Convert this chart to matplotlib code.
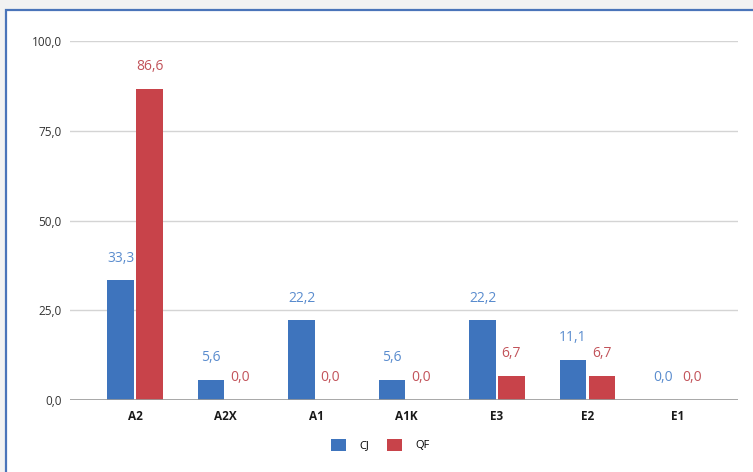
import matplotlib
matplotlib.use("Agg")
import matplotlib.pyplot as plt
from matplotlib.patches import Rectangle
import numpy as np

plt.rcParams['font.family'] = ['Open Sans', 'DejaVu Sans']

categories = ["A2", "A2X", "A1", "A1K", "E3", "E2", "E1"]
cj_values = [33.3, 5.6, 22.2, 5.6, 22.2, 11.1, 0.0]
qf_values = [86.6, 0.0, 0.0, 0.0, 6.7, 6.7, 0.0]
series_names = ["CJ", "QF"]
y_ticks = [0, 25, 50, 75, 100]

blue = "#3e74bd"
red = "#c8434a"
blue_txt = "#5a8cce"
red_txt = "#c2535a"

W, H = 753, 472
fig = plt.figure(figsize=(W / 100, H / 100), dpi=100, facecolor="#f2f2f2")

# white card with a blue frame
card = Rectangle((6 / W, -0.02), 1.02, 1 - 10 / H + 0.02, transform=fig.transFigure,
                 facecolor="white", edgecolor="#4a74b9", linewidth=1.6, zorder=-10)
fig.patches.append(card)

left, right = 70 / W, 738 / W
bottom, top = 1 - 400 / H, 1 - 41 / H
ax = fig.add_axes([left, bottom, right - left, top - bottom])
ax.set_zorder(5)
ax.set_facecolor("none")

x = np.arange(len(categories))
width = 0.29
off = 0.16
b1 = ax.bar(x - off, cj_values, width, color=blue, zorder=3, label=series_names[0])
b2 = ax.bar(x + off, qf_values, width, color=red, zorder=3, label=series_names[1])

def fmt(v):
    return f"{v:.1f}".replace(".", ",")

for xi, v in zip(x - off, cj_values):
    ax.annotate(fmt(v), (xi, v), xytext=(0, 16), textcoords="offset points",
                ha="center", va="center", color=blue_txt, fontsize=10)
for xi, v in zip(x + off, qf_values):
    ax.annotate(fmt(v), (xi, v), xytext=(0, 16), textcoords="offset points",
                ha="center", va="center", color=red_txt, fontsize=10)

px_per_unit = 90.5
ax.set_xlim((70 - 135) / px_per_unit, (738 - 135) / px_per_unit)
ax.set_ylim(0, 100)
ax.set_yticks(y_ticks)
ax.set_yticklabels([fmt(t) for t in y_ticks], fontsize=8.5, color="#333333")
ax.set_xticks(x)
ax.set_xticklabels(categories, fontsize=8.5, color="#1a1a1a", fontweight="bold")
ax.tick_params(axis="both", length=0)
ax.tick_params(axis="y", pad=6)
ax.tick_params(axis="x", pad=7)

for s in ax.spines.values():
    s.set_visible(False)
ax.grid(axis="y", color="#d4d4d4", linewidth=1, zorder=0)
ax.axhline(0, color="#9a9a9a", linewidth=1.2, zorder=4)

fig.legend(handles=[b1, b2], labels=series_names, loc="center",
           bbox_to_anchor=(380 / W, 1 - 445 / H), ncol=2, frameon=False,
           fontsize=8, handlelength=1.35, handleheight=1.35, columnspacing=1.6,
           handletextpad=1.2)

fig.savefig("out.png", dpi=100, facecolor=fig.get_facecolor())
